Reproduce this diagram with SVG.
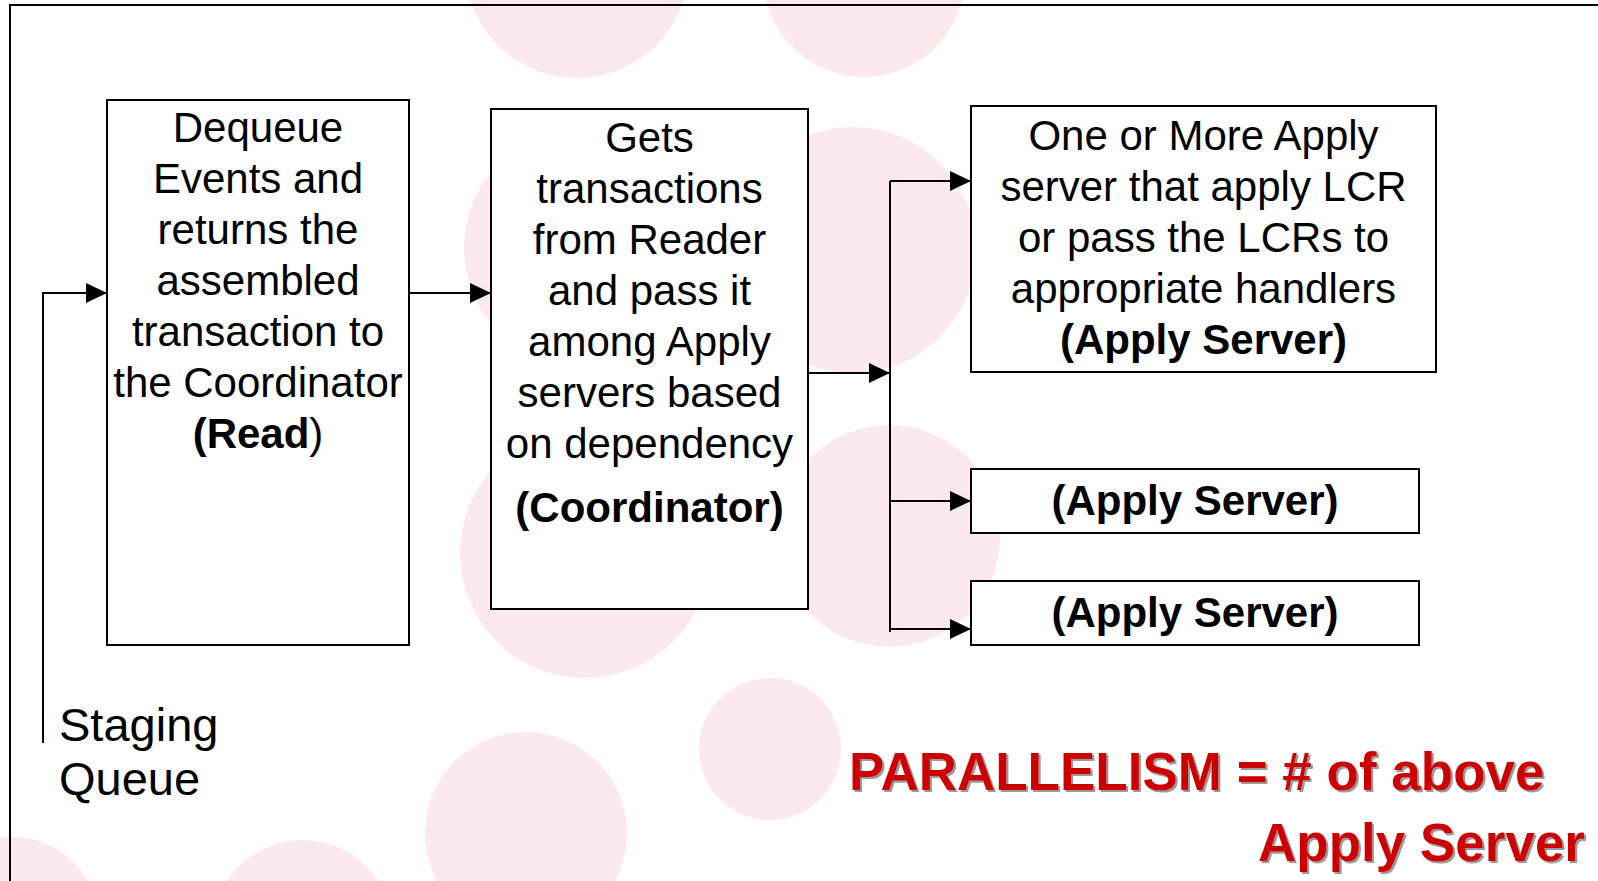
<svg xmlns="http://www.w3.org/2000/svg" width="1598" height="881" viewBox="0 0 1598 881">
  <defs>
    <style>
      .bg { fill: #fbe9ec; }
      .frame { fill: none; stroke: #000; stroke-width: 2; }
      .box { fill: #fff; stroke: #000; stroke-width: 2; }
      .t { font-family: "Liberation Sans", Arial, sans-serif; font-size: 42px; fill: #000; text-anchor: middle; }
      .b { font-weight: bold; }
      .edge { fill: none; stroke: #000; stroke-width: 2; marker-end: url(#arrow); }
      .line { fill: none; stroke: #000; stroke-width: 2; }
      .label { font-family: "Liberation Sans", Arial, sans-serif; font-size: 47px; fill: #000; }
      .note { font-family: "Liberation Sans", Arial, sans-serif; font-size: 53px; font-weight: bold; fill: #cc0000; filter: url(#shadow); }
    </style>
    <marker id="arrow" markerUnits="userSpaceOnUse" markerWidth="21" markerHeight="20" refX="21" refY="10" orient="auto">
      <path d="M0,0 L21,10 L0,20 z" fill="#000"/>
    </marker>
    <filter id="shadow" x="-5%" y="-20%" width="110%" height="140%">
      <feDropShadow dx="2" dy="2" stdDeviation="0.6" flood-color="#9a9a9a"/>
    </filter>
  </defs>

  <!-- page background with soft decorative dots -->
  <rect width="1598" height="881" fill="#fff"/>
  <g id="backdrop">
    <circle class="bg" cx="577" cy="-34" r="112"/>
    <circle class="bg" cx="864" cy="-24" r="101"/>
    <circle class="bg" cx="584" cy="248" r="120"/>
    <circle class="bg" cx="585" cy="553" r="125"/>
    <circle class="bg" cx="853" cy="250" r="123"/>
    <circle class="bg" cx="889" cy="536" r="111"/>
    <circle class="bg" cx="770" cy="749" r="71"/>
    <circle class="bg" cx="526" cy="833" r="101"/>
    <circle class="bg" cx="12" cy="925" r="88"/>
    <circle class="bg" cx="303" cy="930" r="90"/>
  </g>

  <!-- slide frame -->
  <path class="frame" d="M10,881 L10,5 L1598,5"/>

  <!-- connectors -->
  <g id="connectors">
    <path class="edge" d="M43,743 L43,293 L107,293"/>
    <path class="edge" d="M409,293 L491,293"/>
    <path class="edge" d="M808,373 L890,373"/>
    <path class="line" d="M890,181 L890,632"/>
    <path class="edge" d="M890,181 L971,181"/>
    <path class="edge" d="M890,501 L971,501"/>
    <path class="edge" d="M890,629 L971,629"/>
  </g>

  <!-- reader -->
  <g id="reader">
    <rect class="box" x="107" y="100" width="302" height="545"/>
    <text class="t" x="258" y="142">Dequeue</text>
    <text class="t" x="258" y="193">Events and</text>
    <text class="t" x="258" y="244">returns the</text>
    <text class="t" x="258" y="295">assembled</text>
    <text class="t" x="258" y="346">transaction to</text>
    <text class="t" x="258" y="397">the Coordinator</text>
    <text class="t" x="258" y="448"><tspan class="b">(Read</tspan>)</text>
  </g>

  <!-- coordinator -->
  <g id="coordinator">
    <rect class="box" x="491" y="109" width="317" height="500"/>
    <text class="t" x="649.5" y="152">Gets</text>
    <text class="t" x="649.5" y="203">transactions</text>
    <text class="t" x="649.5" y="254">from Reader</text>
    <text class="t" x="649.5" y="305">and pass it</text>
    <text class="t" x="649.5" y="356">among Apply</text>
    <text class="t" x="649.5" y="407">servers based</text>
    <text class="t" x="649.5" y="458">on dependency</text>
    <text class="t b" x="649.5" y="522">(Coordinator)</text>
  </g>

  <!-- apply servers -->
  <g id="apply-main">
    <rect class="box" x="971" y="106" width="465" height="266"/>
    <text class="t" x="1203.5" y="150">One or More Apply</text>
    <text class="t" x="1203.5" y="201">server that apply LCR</text>
    <text class="t" x="1203.5" y="252">or pass the LCRs to</text>
    <text class="t" x="1203.5" y="303">appropriate handlers</text>
    <text class="t b" x="1203.5" y="354">(Apply Server)</text>
  </g>
  <g id="apply-2">
    <rect class="box" x="971" y="469" width="448" height="64"/>
    <text class="t b" x="1195" y="515">(Apply Server)</text>
  </g>
  <g id="apply-3">
    <rect class="box" x="971" y="581" width="448" height="64"/>
    <text class="t b" x="1195" y="627">(Apply Server)</text>
  </g>

  <!-- queue label -->
  <g id="staging-queue">
    <text class="label" x="59" y="741">Staging</text>
    <text class="label" x="59" y="795">Queue</text>
  </g>

  <!-- note -->
  <g id="parallelism-note">
    <text class="note" x="849" y="790">PARALLELISM = # of above</text>
    <text class="note" x="1258" y="861">Apply Server</text>
  </g>
</svg>
